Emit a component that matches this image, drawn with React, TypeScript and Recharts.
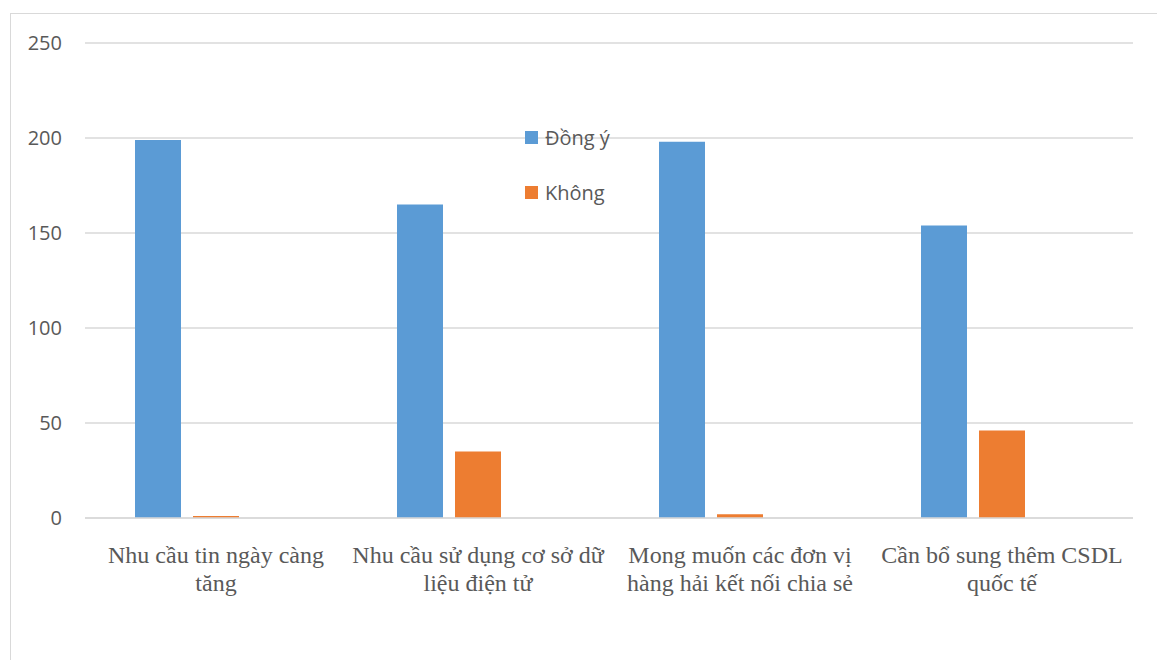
import { Bar, BarChart, CartesianGrid, XAxis, YAxis } from "recharts";

const categories = [
  ["Nhu cầu tin ngày càng", "tăng"],
  ["Nhu cầu sử dụng cơ sở dữ", "liệu điện tử"],
  ["Mong muốn các đơn vị", "hàng hải kết nối chia sẻ"],
  ["Cần bổ sung thêm CSDL", "quốc tế"],
];
const dongY = [199, 165, 198, 154];
const khong = [1, 35, 2, 46];
// third series is empty in the source chart but still reserves its slot
const series3: (number | null)[] = [null, null, null, null];
const yTicks = [0, 50, 100, 150, 200, 250];

const legendItems = [
  { label: "Đồng ý", color: "#5b9bd5" },
  { label: "Không", color: "#ed7d31" },
];

const data = categories.map((lines, i) => ({
  name: lines.join(" "),
  lines,
  dongY: dongY[i],
  khong: khong[i],
  s3: series3[i],
}));

const GRAY_TEXT = "#595959";
const GRID = "#d9d9d9";

function CategoryTick(props: any) {
  const { x, y, payload, index } = props;
  const lines: string[] = data[index]?.lines ?? [payload.value];
  return (
    <text
      x={x}
      y={y}
      textAnchor="middle"
      fill={GRAY_TEXT}
      fontFamily="'Liberation Serif', 'Times New Roman', serif"
      fontSize={24}
    >
      {lines.map((line, i) => (
        <tspan key={i} x={x} dy={i === 0 ? 37 : 28}>
          {line}
        </tspan>
      ))}
    </text>
  );
}

export default function App() {
  return (
    <div
      style={{
        position: "fixed",
        left: 10,
        top: 13,
        width: 1170,
        height: 680,
        border: `1px solid ${GRID}`,
        background: "#fff",
      }}
    >
      <BarChart
        width={1146}
        height={646}
        data={data}
        margin={{ top: 29, right: 24, bottom: 42, left: 0 }}
        barCategoryGap={50}
        barGap={12}
      >
        <CartesianGrid vertical={false} stroke={GRID} strokeWidth={1.3} />
        <XAxis
          dataKey="name"
          axisLine={{ stroke: GRID, strokeWidth: 1.3 }}
          tickLine={false}
          interval={0}
          height={100}
          tick={<CategoryTick />}
        />
        <YAxis
          domain={[0, 250]}
          ticks={yTicks}
          width={74}
          axisLine={false}
          tickLine={false}
          tickSize={0}
          tickMargin={23}
          tick={{ fill: GRAY_TEXT, fontSize: 20, fontFamily: "'Open Sans', sans-serif" }}
        />
        <Bar dataKey="dongY" name="Đồng ý" fill="#5b9bd5" isAnimationActive={false} />
        <Bar dataKey="khong" name="Không" fill="#ed7d31" isAnimationActive={false} />
        <Bar dataKey="s3" name="Series3" fill="#a5a5a5" isAnimationActive={false} />
      </BarChart>
      <div
        style={{
          position: "absolute",
          left: 514,
          top: 109,
          fontFamily: "'Open Sans', sans-serif",
          fontSize: 20,
          color: GRAY_TEXT,
        }}
      >
        {legendItems.map((item) => (
          <div key={item.label} style={{ display: "flex", alignItems: "center", height: 28, marginBottom: 27 }}>
            <span
              style={{ width: 13, height: 13, background: item.color, display: "inline-block", marginRight: 7 }}
            />
            <span>{item.label}</span>
          </div>
        ))}
      </div>
    </div>
  );
}
